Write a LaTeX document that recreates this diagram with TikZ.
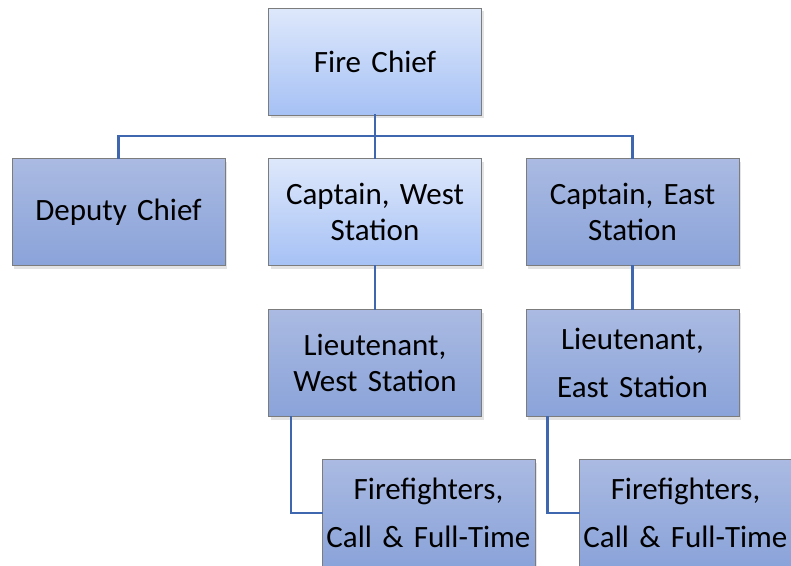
\documentclass[tikz,border=0pt]{standalone}
\usepackage{fontspec}
\setmainfont{Carlito}
\usepackage{tikz}
\usetikzlibrary{shadows}
\usepackage{xcolor}
\definecolor{lighttop}{HTML}{DEE8FB}
\definecolor{lightbot}{HTML}{A6C1F5}
\definecolor{darktop}{HTML}{AABAE2}
\definecolor{darkbot}{HTML}{8AA3D9}
\definecolor{boxline}{HTML}{7C7C7C}
\definecolor{linkblue}{HTML}{3E67AF}

\begin{document}
\begin{tikzpicture}[x=1pt,y=-1pt,line cap=rect,
  post/.style={draw=boxline,line width=1pt,minimum width=213pt,minimum height=107pt,
    text width=211pt,align=center,inner sep=0pt,
    font=\fontsize{31}{36}\selectfont,
    drop shadow={opacity=0.22,shadow xshift=2pt,shadow yshift=-3pt}},
  lightpost/.style={post,top color=lighttop,bottom color=lightbot},
  darkpost/.style={post,top color=darktop,bottom color=darkbot},
  wide/.style={font=\fontsize{31}{48}\selectfont},
  link/.style={draw=linkblue,line width=2.4pt}]
\clip (0,0) rectangle (791,565);
\useasboundingbox (0,0) rectangle (791,565);
\node[lightpost] (chief) at (375,61.5) {Fire Chief};
\node[darkpost] (deputy) at (118.5,212) {Deputy Chief};
\node[lightpost] (capwest) at (375,212) {Captain, West\\Station};
\node[darkpost] (capeast) at (632.5,212) {Captain, East\\Station};
\node[darkpost] (ltwest) at (375,363) {Lieutenant,\\West Station};
\node[darkpost,wide] (lteast) at (632.5,363) {Lieutenant,\\East Station};
\node[darkpost,wide] (ffwest) at (428.5,513) {Firefighters,\\Call \& Full-Time};
\node[darkpost,wide] (ffeast) at (685.5,513) {Firefighters,\\Call \& Full-Time};
\coordinate (bus) at (375,136);
\draw[link] (chief.south) -- (bus) -- (capwest.north);
\draw[link] (deputy.north) |- (bus) -| (capeast.north);
\draw[link] (capwest.south) -- (ltwest.north);
\draw[link] (capeast.south) -- (lteast.north);
\draw[link] ([xshift=23pt]ltwest.south west) |- (ffwest.west);
\draw[link] ([xshift=22pt]lteast.south west) |- (ffeast.west);
\end{tikzpicture}
\end{document}
